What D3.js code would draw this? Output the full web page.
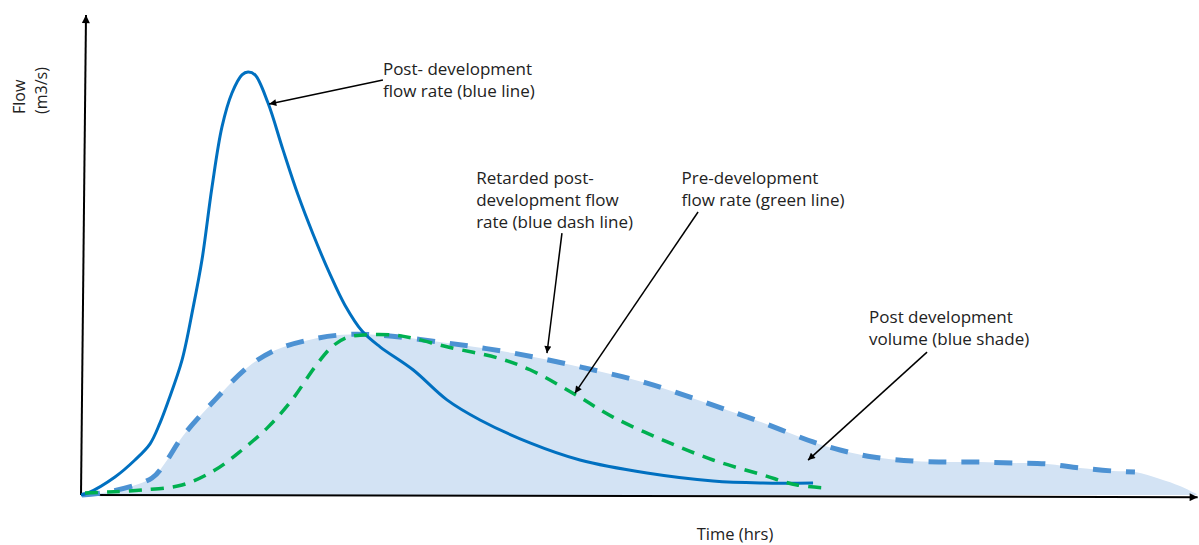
<!DOCTYPE html>
<html><head><meta charset="utf-8">
<script src="https://cdn.jsdelivr.net/npm/d3@7"></script>
<style>html,body{margin:0;padding:0;background:#fff;} svg{display:block;}</style>
</head><body><svg id="chart" width="1199" height="545"></svg>
<script>
// ---- Data (time in hrs, flow in relative m3/s units) ----
const postTime = [0, 0.63, 3.06, 4.86, 6.22, 7.12, 7.84, 9.10, 10.09, 10.90, 11.80, 12.70, 13.60, 14.50, 15.05, 15.68, 16.85, 18.20, 19.55, 20.90, 22.43, 23.78, 25.32, 26.94, 29.91, 32.97, 35.95, 40.45, 44.95, 50.99, 56.94, 61.44, 65.95];
const postFlow = [0, 0.42, 3.77, 7.32, 10.7, 15.1, 19.5, 28.2, 39.1, 49.2, 64.4, 77.0, 84.1, 87.9, 88.5, 87.9, 82.0, 72.2, 62.8, 54.6, 46.2, 39.7, 34.3, 31.0, 26.2, 19.9, 15.7, 10.9, 7.32, 4.60, 2.93, 2.51, 2.51];

const preTime = [0.36, 2.43, 5.50, 9.10, 12.07, 14.50, 16.85, 19.01, 21.08, 22.61, 23.90, 25.59, 28.02, 29.91, 32.97, 37.48, 40.45, 44.32, 47.93, 52.43, 56.94, 61.44, 64.50, 67.21];
const preFlow = [0.42, 0.63, 1.05, 2.09, 5.23, 9.41, 14.2, 19.9, 26.8, 31.0, 32.9, 33.5, 33.5, 32.8, 31.0, 28.7, 26.2, 21.3, 16.3, 11.5, 7.32, 4.18, 2.09, 1.46];

const retTime = [0.09, 2.43, 6.40, 7.57, 9.10, 12.07, 15.05, 17.48, 20.45, 23.51, 26.49, 32.97, 38.92, 44.95, 50.99, 56.94, 61.44, 65.95, 68.38, 71.35, 74.95, 78.02, 80.99, 83.96, 87.03, 90.00, 92.97, 94.95];
const retFlow = [0, 0.63, 3.56, 6.69, 12.1, 19.9, 26.8, 30.3, 32.4, 33.5, 33.5, 31.8, 29.7, 26.8, 23.4, 18.8, 15.1, 11.1, 9.41, 7.95, 7.11, 6.90, 6.90, 6.69, 6.49, 5.65, 5.02, 4.81];

// tail of the shaded volume beyond the dashed line
const volTailTime = [97.21, 99.0, 100.5];
const volTailFlow = [3.35, 1.88, 0.2];

const axisTitles = {x: "Time (hrs)", y: ["Flow", "(m3/s)"]};

// ---- Layout ----
const svg = d3.select("#chart");
const x = d3.scaleLinear().domain([0, 100]).range([81, 1191]);
const y = d3.scaleLinear().domain([0, 100]).range([495, 17]);

const zip = (a, b) => a.map((v, i) => [v, b[i]]);
const postData = zip(postTime, postFlow);
const preData = zip(preTime, preFlow);
const retData = zip(retTime, retFlow);
const volData = retData.concat(zip(volTailTime, volTailFlow));

const defs = svg.append("defs");
defs.append("marker").attr("id", "axArrow").attr("viewBox", "0 0 10 10")
  .attr("refX", 10).attr("refY", 5).attr("markerWidth", 9).attr("markerHeight", 8)
  .attr("markerUnits", "userSpaceOnUse").attr("orient", "auto")
  .append("path").attr("d", "M0,0 L10,5 L0,10 Z").attr("fill", "#000");
defs.append("marker").attr("id", "annArrow").attr("viewBox", "0 0 10 10")
  .attr("refX", 10).attr("refY", 5).attr("markerWidth", 9).attr("markerHeight", 7)
  .attr("markerUnits", "userSpaceOnUse").attr("orient", "auto")
  .append("path").attr("d", "M0,0 L10,5 L0,10 Z").attr("fill", "#000");

const line = d3.line().x(d => x(d[0])).y(d => y(d[1])).curve(d3.curveCatmullRom.alpha(0.5));
const area = d3.area().x(d => x(d[0])).y0(y(0)).y1(d => y(d[1])).curve(d3.curveCatmullRom.alpha(0.5));

// shaded volume
svg.append("path").datum(volData).attr("d", area).attr("fill", "#d3e3f4");

// axes
svg.append("line").attr("x1", x(0)).attr("y1", y(0)).attr("x2", x(100.6)).attr("y2", y(-0.45))
  .attr("stroke", "#000").attr("stroke-width", 2).attr("marker-end", "url(#axArrow)");
svg.append("line").attr("x1", x(0)).attr("y1", y(0)).attr("x2", x(0.45)).attr("y2", y(100.4))
  .attr("stroke", "#000").attr("stroke-width", 2).attr("marker-end", "url(#axArrow)");

// retarded post-development (blue dashed)
svg.append("path").datum(retData).attr("d", line).attr("fill", "none")
  .attr("stroke", "#4d92d3").attr("stroke-width", 5).attr("stroke-dasharray", "18,15");
// post-development (blue solid)
svg.append("path").datum(postData).attr("d", line).attr("fill", "none")
  .attr("stroke", "#0070c0").attr("stroke-width", 3);
// pre-development (green dashed)
svg.append("path").datum(preData).attr("d", line).attr("fill", "none")
  .attr("stroke", "#00b050").attr("stroke-width", 3.5).attr("stroke-dasharray", "13,9");

// axis titles
const font = "'Open Sans', 'Noto Sans', sans-serif";
svg.append("text").attr("x", 735).attr("y", 540).attr("text-anchor", "middle")
  .attr("font-family", font).attr("font-size", 16.5).attr("fill", "#222").text(axisTitles.x);
axisTitles.y.forEach((t, i) => {
  svg.append("text").attr("transform", `translate(${25 + i * 22},114) rotate(-90)`)
    .attr("font-family", font).attr("font-size", 16).attr("fill", "#222").text(t);
});

// annotations: text anchor + arrow from/to in data units
const annotations = [
  {lines: ["Post- development", "flow rate (blue line)"], tx: 27.2, ty: 87.8, from: [27.2, 86.8], to: [16.96, 81.8]},
  {lines: ["Retarded post-", "development flow", "rate (blue dash line)"], tx: 35.6, ty: 65.1, from: [43.33, 54.8], to: [41.98, 29.7]},
  {lines: ["Pre-development", "flow rate (green line)"], tx: 54.1, ty: 65.1, from: [55.59, 59.2], to: [44.5, 21.3]},
  {lines: ["Post development", "volume (blue shade)"], tx: 71.0, ty: 36.0, from: [76.22, 29.9], to: [65.5, 7.3]}
];
annotations.forEach(a => {
  const t = svg.append("text").attr("font-family", font).attr("font-size", 17).attr("fill", "#222");
  a.lines.forEach((l, i) => {
    t.append("tspan").attr("x", x(a.tx)).attr("y", y(a.ty) + i * 22).text(l);
  });
  svg.append("line").attr("x1", x(a.from[0])).attr("y1", y(a.from[1]))
    .attr("x2", x(a.to[0])).attr("y2", y(a.to[1]))
    .attr("stroke", "#000").attr("stroke-width", 1.5).attr("marker-end", "url(#annArrow)");
});
</script>
</body></html>
